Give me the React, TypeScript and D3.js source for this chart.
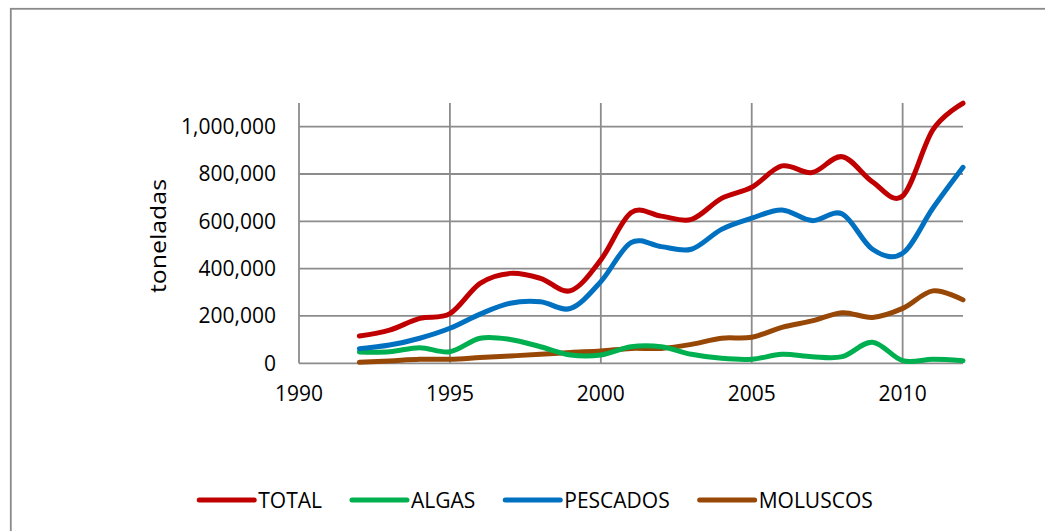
import React, { useEffect, useRef } from "react";
import * as d3 from "d3";

const years = [1992, 1993, 1994, 1995, 1996, 1997, 1998, 1999, 2000, 2001, 2002, 2003, 2004, 2005, 2006, 2007, 2008, 2009, 2010, 2011, 2012];
const total = [115000, 140000, 190000, 210000, 338000, 380000, 359000, 307000, 437000, 636000, 622000, 608000, 697000, 744000, 834000, 806000, 873000, 767000, 707000, 986000, 1099000];
const algas = [48000, 49000, 66000, 49000, 106000, 101000, 70000, 35000, 35000, 70000, 70000, 38000, 21000, 17000, 38000, 28000, 28000, 89000, 11000, 17000, 11000];
const pescados = [62000, 77000, 106000, 148000, 208000, 254000, 260000, 232000, 345000, 510000, 493000, 482000, 566000, 613000, 648000, 603000, 631000, 482000, 465000, 655000, 828000];
const moluscos = [4000, 10000, 17000, 17000, 24000, 31000, 38000, 46000, 52000, 63000, 63000, 80000, 106000, 110000, 152000, 179000, 214000, 194000, 232000, 306000, 268000];

const seriesNames = ["TOTAL", "ALGAS", "PESCADOS", "MOLUSCOS"];
const seriesValues = [total, algas, pescados, moluscos];
const seriesColors = ["#C00000", "#00B050", "#0070C0", "#974706"];

const xTicks = [1990, 1995, 2000, 2005, 2010];
const yTicks = [0, 200000, 400000, 600000, 800000, 1000000];
const xDomain = [1990, 2012];
const yDomain = [0, 1100000];
const yTitle = "toneladas";

const FONT = "'Open Sans', 'Noto Sans', sans-serif";

export default function App() {
  const ref = useRef<SVGSVGElement>(null);

  useEffect(() => {
    const svg = d3.select(ref.current);
    svg.selectAll("*").remove();

    const left = 299, right = 963, top = 103, bottom = 363.3;
    const x = d3.scaleLinear().domain(xDomain).range([left, right]);
    const y = d3.scaleLinear().domain(yDomain).range([bottom, top]);

    // outer border
    svg.append("rect")
      .attr("x", 10.8).attr("y", 8.8)
      .attr("width", 1200).attr("height", 700)
      .attr("fill", "#fff")
      .attr("stroke", "#8a8a8a").attr("stroke-width", 1.8);

    const grid = svg.append("g").attr("stroke", "#8c8c8c").attr("stroke-width", 1.8);
    yTicks.forEach((t) => {
      grid.append("line").attr("x1", left).attr("x2", right).attr("y1", y(t)).attr("y2", y(t));
    });
    xTicks.forEach((t) => {
      grid.append("line").attr("x1", x(t)).attr("x2", x(t)).attr("y1", top).attr("y2", bottom);
    });

    // y tick labels
    const fmt = d3.format(",");
    svg.append("g").selectAll("text").data(yTicks).join("text")
      .attr("x", 276).attr("y", (d) => y(d) + 7.5)
      .attr("text-anchor", "end")
      .attr("font-family", FONT).attr("font-size", 21).attr("fill", "#000")
      .text((d) => fmt(d));

    // x tick labels
    svg.append("g").selectAll("text").data(xTicks).join("text")
      .attr("x", (d) => x(d)).attr("y", 401)
      .attr("text-anchor", "middle")
      .attr("font-family", FONT).attr("font-size", 21).attr("fill", "#000")
      .text((d) => String(d));

    // y title
    svg.append("text")
      .attr("transform", `translate(166,236) rotate(-90)`)
      .attr("text-anchor", "middle")
      .attr("font-family", FONT).attr("font-size", 21)
      .attr("textLength", 114).attr("lengthAdjust", "spacingAndGlyphs")
      .attr("fill", "#000")
      .text(yTitle);

    // lines
    const line = d3.line<number>()
      .x((_, i) => x(years[i]))
      .y((d) => y(d))
      .curve(d3.curveCardinal.tension(0));

    const order = [3, 1, 2, 0];
    order.forEach((si) => {
      svg.append("path")
        .attr("d", line(seriesValues[si]) as string)
        .attr("fill", "none")
        .attr("stroke", seriesColors[si])
        .attr("stroke-width", 5)
        .attr("stroke-linecap", "round")
        .attr("stroke-linejoin", "round");
    });

    // legend
    const lg = svg.append("g");
    const lineLen = 55, gapText = 4, gapItem = 30, ly = 500;
    let cx = 0;
    const items: { g: any; w: number }[] = [];
    seriesNames.forEach((name, i) => {
      const g = lg.append("g");
      g.append("line")
        .attr("x1", 0).attr("x2", lineLen).attr("y1", 0).attr("y2", 0)
        .attr("stroke", seriesColors[i]).attr("stroke-width", 5).attr("stroke-linecap", "round");
      const t = g.append("text")
        .attr("x", lineLen + gapText).attr("y", 7.5)
        .attr("font-family", FONT).attr("font-size", 21).attr("fill", "#000")
        .text(name);
      const tw = (t.node() as SVGTextElement).getComputedTextLength();
      items.push({ g, w: lineLen + gapText + tw });
    });
    const totalW = items.reduce((a, b) => a + b.w, 0) + gapItem * (items.length - 1);
    cx = 536 - totalW / 2;
    items.forEach((it) => {
      it.g.attr("transform", `translate(${cx},${ly})`);
      cx += it.w + gapItem;
    });
  }, []);

  return (
    <svg
      ref={ref}
      width={1045}
      height={531}
      style={{ position: "absolute", left: 0, top: 0, background: "#fff" }}
    />
  );
}
